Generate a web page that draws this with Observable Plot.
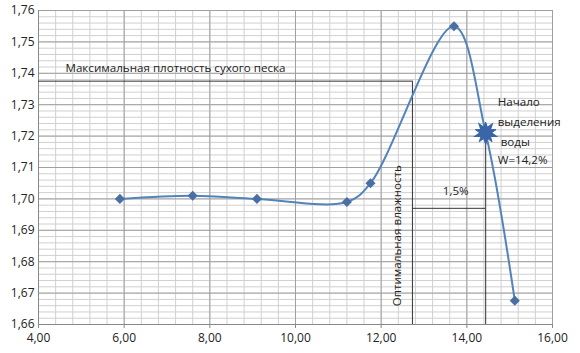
<!DOCTYPE html>
<html>
<head>
<meta charset="utf-8">
<script src="https://cdn.jsdelivr.net/npm/d3@7"></script>
<script src="https://cdn.jsdelivr.net/npm/@observablehq/plot@0.6"></script>
<style>
  html, body { margin: 0; padding: 0; background: #fff; }
  #chart { width: 580px; height: 353px; }
</style>
</head>
<body>
<div id="chart"></div>
<script>
// Moisture W, % (x) and dry density (y)
const moisture = [5.9, 7.6, 9.1, 11.2, 11.75, 13.7, 14.44, 15.12];
const density  = [1.700, 1.701, 1.700, 1.699, 1.705, 1.755, 1.721, 1.6676];

const xTicks = [4, 6, 8, 10, 12, 14, 16];
const yTicks = [1.66, 1.67, 1.68, 1.69, 1.70, 1.71, 1.72, 1.73, 1.74, 1.75, 1.76];

// Annotation values
const maxDensity = 1.7375;      // max dry density
const optMoisture = 12.73;      // optimum moisture
const waterStart = 14.44;       // start of water release
const waterStartDensity = 1.721;
const gapLevel = 1.697;         // level of the 1,5% bracket

const labelMax = ["Максимальная плотность сухого песка"];
const labelOpt = ["Оптимальная влажность"];
const labelGap = ["1,5%"];
const labelWater = ["Начало", "выделения", " воды", "W=14,2%"];
const labelWaterY = [1.7307, 1.7243, 1.718, 1.7122];

const points = moisture.map((w, i) => ({w, d: density[i]}));
const markerPts = points.filter((p, i) => i !== 6);
const starPt = [points[6]];

const fmt = v => d3.format(".2f")(v).replace(".", ",");

const minorX = d3.range(4, 16.001, 0.4);
const minorY = d3.range(1.66, 1.7601, 0.002);

const chart = Plot.plot({
  width: 580,
  height: 353,
  marginLeft: 38,
  marginRight: 28,
  marginTop: 10,
  marginBottom: 29,
  style: { fontFamily: "Open Sans, sans-serif", fontSize: "12px", color: "#222", background: "#fff" },
  x: { domain: [4, 16], ticks: xTicks, tickFormat: fmt, label: null, tickSize: 4 },
  y: { domain: [1.66, 1.76], ticks: yTicks, tickFormat: fmt, label: null, tickSize: 0 },
  marks: [
    Plot.ruleY(minorY, { stroke: "#d0d0d0", strokeWidth: 1 }),
    Plot.ruleX(minorX, { stroke: "#d0d0d0", strokeWidth: 1 }),
    Plot.ruleY(yTicks, { stroke: "#a0a0a0", strokeWidth: 1 }),
    Plot.ruleX(xTicks, { stroke: "#a0a0a0", strokeWidth: 1 }),
    Plot.axisX({ ticks: xTicks, tickFormat: fmt, tickSize: 4, stroke: "#888", fontSize: 12, tickPadding: 5 }),
    Plot.axisY({ ticks: yTicks, tickFormat: fmt, tickSize: 0, fontSize: 12, tickPadding: 4 }),
    Plot.ruleY([1.66], { stroke: "#888" }),
    Plot.ruleX([4], { stroke: "#888" }),
    // annotation lines
    Plot.ruleY([maxDensity], { x1: 4, x2: optMoisture, stroke: "#333", strokeWidth: 1 }),
    Plot.ruleX([optMoisture], { y1: 1.66, y2: maxDensity, stroke: "#333", strokeWidth: 1 }),
    Plot.ruleX([waterStart], { y1: 1.66, y2: waterStartDensity, stroke: "#333", strokeWidth: 1 }),
    Plot.ruleY([gapLevel], { x1: optMoisture, x2: waterStart, stroke: "#333", strokeWidth: 1 }),
    // curve
    Plot.line(points, { x: "w", y: "d", curve: "catmull-rom", stroke: "#5383bb", strokeWidth: 2 }),
    Plot.dot(markerPts, { x: "w", y: "d", symbol: "diamond2", r: 3.6, fill: "#4a6fa3", stroke: "#4a6fa3" }),
    Plot.dot(starPt, { x: "w", y: "d", symbol: "star", r: 6.5, fill: "#3a66a8", stroke: "#3a66a8", strokeWidth: 1 }),
    Plot.dot(starPt, { x: "w", y: "d", symbol: "star", r: 6.5, fill: "#3a66a8", stroke: "#3a66a8", rotate: 36 }),
    // labels
    Plot.text(labelMax, { x: 4.63, y: 1.7415, text: d => d, textAnchor: "start", fill: "#222", fontSize: 11.6 }),
    Plot.text(labelGap, { x: 13.74, y: 1.7025, text: d => d, fill: "#222", fontSize: 11.6 }),
    Plot.text(labelOpt, { x: 12.38, y: 1.6883, text: d => d, rotate: -90, fill: "#222", fontSize: 11.6 }),
    Plot.text(labelWater, { x: 14.72, y: (d, i) => labelWaterY[i], text: d => d, textAnchor: "start", fill: "#222", fontSize: 11.6 })
  ]
});
document.getElementById("chart").appendChild(chart);
</script>
</body>
</html>
